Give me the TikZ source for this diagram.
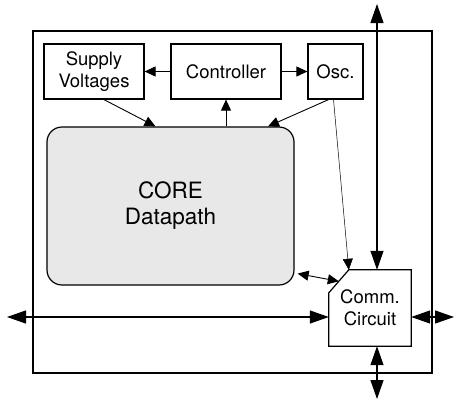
\documentclass[tikz,border=0pt]{standalone}
\usepackage{fontspec}
\setmainfont{TeX Gyre Heros}
\usetikzlibrary{calc, positioning}
\usetikzlibrary{arrows.meta}
\definecolor{coregray}{RGB}{232,232,232}

\begin{document}
\begin{tikzpicture}[x=1pt,y=-1pt,
    >={Triangle[length=11pt,width=10pt]},
    block/.style={draw,line width=1.2pt,inner sep=0pt,align=center,
        font=\fontsize{18.5}{22}\selectfont},
    sig/.style={line width=0.9pt,->},
    link/.style={line width=0.9pt,<->},
    bus/.style={line width=1.2pt,
        {Triangle[length=19pt,width=13pt]}-{Triangle[length=19pt,width=13pt]}}]
\useasboundingbox (0,0) rectangle (455,405);

% Chip outline
\draw[line width=1.2pt] (33,31) rectangle (432,373);

% Blocks along the top and the core
\node[block,minimum width=100pt,minimum height=55pt] (supply) at (94,71.5) {Supply\\Voltages};
\node[block,minimum width=110pt,minimum height=55pt] (ctrl) at (226,71.5) {Controller};
\node[block,minimum width=55pt,minimum height=55pt] (osc) at (335.5,71.5) {Osc.};
\node[block,rounded corners=15pt,fill=coregray,minimum width=247pt,minimum height=158pt,
    font=\fontsize{22.5}{26}\selectfont] (core) at (170.5,206) {CORE\\Datapath};

% Communication block with its cut corner
\node[inner sep=0pt,align=center,minimum width=82pt,minimum height=76pt,
    font=\fontsize{18.5}{22}\selectfont] (comm) at (370,308) {Comm.\\Circuit};
\coordinate (chamtop) at ($(comm.north west)+(20,0)$);
\coordinate (chamleft) at ($(comm.north west)+(0,23)$);
\draw[line width=1.2pt] (chamtop) -- (comm.north east) -- (comm.south east)
    -- (comm.south west) -- (chamleft) -- cycle;

% Internal signals
\draw[sig] (ctrl.west) -- (supply.east);
\draw[sig] (ctrl.east) -- (osc.west);
\draw[sig] ($(supply.south)+(10,0)$) -- ($(core.north)+(-15,0)$);
\draw[sig] (core.north -| ctrl.south) -- (ctrl.south);
\draw[sig] ($(osc.south)+(-7,0)$) -- ($(core.north)+(97.5,0)$);
\draw[line width=0.5pt,->] ($(osc.south)+(-2,0)$) -- (chamtop);
\draw[link] ($(core.south east)+(3,-12)$) -- ($(chamtop)!0.5!(chamleft)$);

% External buses
\coordinate (bustop) at (377,4);
\coordinate (busleft) at (7,317);
\coordinate (busright) at (454,317);
\coordinate (busbottom) at (377,399);
\draw[bus] (bustop) -- (bustop |- comm.north);
\draw[bus] (busleft) -- (busleft -| comm.west);
\draw[bus] (busright -| comm.east) -- (busright);
\draw[bus] (busbottom |- comm.south) -- (busbottom);
\end{tikzpicture}
\end{document}
